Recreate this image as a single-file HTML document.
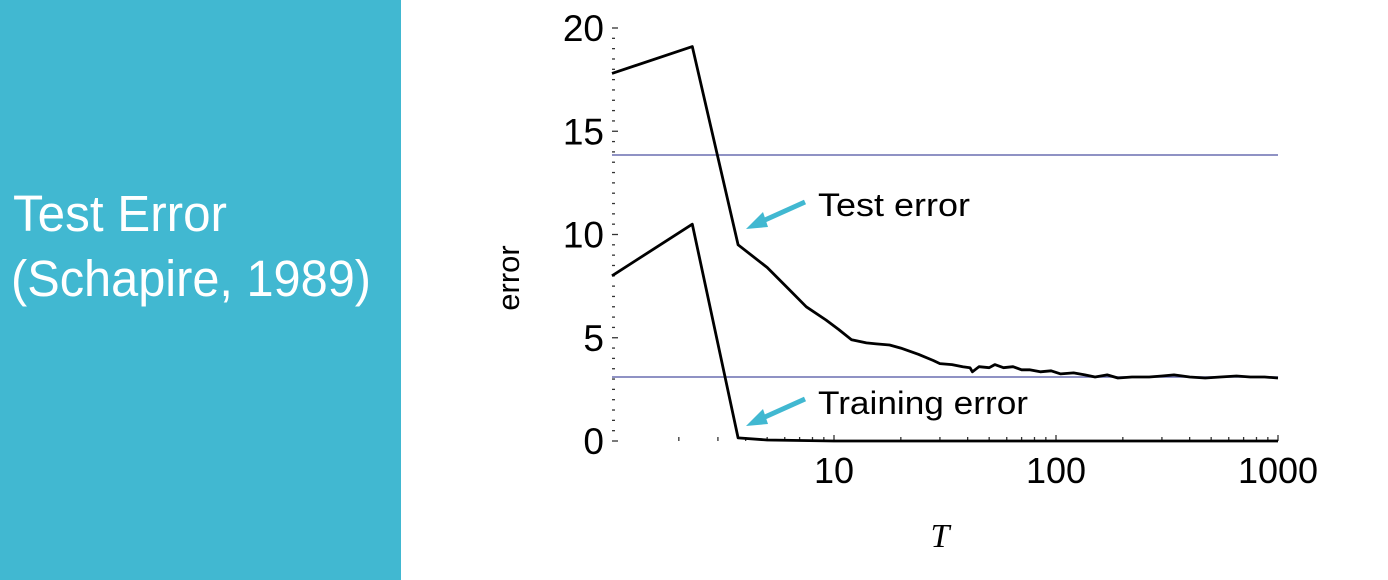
<!DOCTYPE html>
<html><head><meta charset="utf-8"><style>
html,body{margin:0;padding:0;background:#fff;width:1388px;height:580px;overflow:hidden}
svg{display:block}
</style></head><body>
<svg id="chart" width="1388" height="580" viewBox="0 0 1388 580" xmlns="http://www.w3.org/2000/svg">
<rect x="0" y="0" width="401" height="580" fill="#41B8D1"/>
<text x="13" y="231" font-family="Liberation Sans, sans-serif" font-size="51" fill="#fff" textLength="214" lengthAdjust="spacingAndGlyphs">Test Error</text>
<text x="11" y="296" font-family="Liberation Sans, sans-serif" font-size="51" fill="#fff" textLength="360" lengthAdjust="spacingAndGlyphs">(Schapire, 1989)</text>
<g id="axes"></g>
<g id="marks"></g>
<text x="519" y="278" transform="rotate(-90 519 278)" text-anchor="middle" font-family="Liberation Sans, sans-serif" font-size="31" fill="#000">error</text>
<text x="940" y="547" text-anchor="middle" font-family="Liberation Serif, serif" font-style="italic" font-size="34" fill="#000">T</text>
<line x1="805" y1="202" x2="756" y2="224" stroke="#41B8D1" stroke-width="5"/>
<polygon points="746,229 763,212 768,227" fill="#41B8D1"/>
<line x1="805" y1="399" x2="756" y2="421" stroke="#41B8D1" stroke-width="5"/>
<polygon points="746,426 763,409 768,424" fill="#41B8D1"/>
<text x="818" y="216" font-family="Liberation Sans, sans-serif" font-size="32" fill="#000" textLength="152" lengthAdjust="spacingAndGlyphs">Test error</text>
<text x="818" y="414" font-family="Liberation Sans, sans-serif" font-size="32" fill="#000" textLength="210" lengthAdjust="spacingAndGlyphs">Training error</text>
</svg>
<script>
const xTicks = [10, 100, 1000];
const xTickLabels = ["10", "100", "1000"];
const yTicks = [0, 5, 10, 15, 20];
const yTickLabels = ["0", "5", "10", "15", "20"];
const refLines = [13.85, 3.1];
const testT = [1, 2.3, 3.7, 5, 6.2, 7.5, 9.2, 10.5, 12, 14, 15.5, 17.8, 20, 24, 28, 30, 34, 38, 41, 42, 45, 50, 53, 58, 64, 70, 76, 85, 95, 105, 120, 135, 150, 170, 190, 220, 263, 300, 340, 400, 470, 550, 650, 750, 870, 1000];
const testErr = [17.8, 19.1, 9.5, 8.4, 7.4, 6.5, 5.86, 5.4, 4.9, 4.75, 4.7, 4.65, 4.5, 4.2, 3.9, 3.75, 3.7, 3.6, 3.55, 3.35, 3.6, 3.55, 3.7, 3.55, 3.6, 3.45, 3.45, 3.35, 3.4, 3.25, 3.3, 3.2, 3.1, 3.2, 3.05, 3.1, 3.1, 3.15, 3.2, 3.1, 3.05, 3.1, 3.15, 3.1, 3.1, 3.05];
const trainT = [1, 2.3, 3.7, 5, 10, 1000];
const trainErr = [8.0, 10.5, 0.15, 0.05, 0.0, 0.0];

const NS = "http://www.w3.org/2000/svg";
const X0 = 612, DEC = 222, Y0 = 441, YU = 20.65;
function xs(t){ return X0 + DEC * Math.log10(t); }
function ys(v){ return Y0 - YU * v; }
function mk(tag, attrs, parent){
  const e = document.createElementNS(NS, tag);
  for (const k in attrs) e.setAttribute(k, attrs[k]);
  parent.appendChild(e);
  return e;
}
const axes = document.getElementById('axes');
const marks = document.getElementById('marks');

for (let v = 0; v <= 20.01; v += 0.5) {
  const major = Math.abs(v - Math.round(v / 5) * 5) < 1e-6;
  const t = mk('line', {x1: X0, x2: X0 + (major ? 6 : 3), y1: ys(v), y2: ys(v), stroke: '#333', 'stroke-width': 1.3}, axes);
  
  
}
yTicks.forEach((v, i) => {
  const t = mk('text', {x: 604, y: ys(v) + 13, 'text-anchor': 'end', 'font-family': 'Liberation Sans, sans-serif', 'font-size': 37, fill: '#000'}, axes);
  t.textContent = yTickLabels[i];
  
  
});
for (let d = 0; d < 3; d++) {
  for (let m = 2; m <= 10; m++) {
    const t = m * Math.pow(10, d);
    const major = m === 10;
    const l = mk('line', {x1: xs(t), x2: xs(t), y1: Y0, y2: Y0 - (major ? 6 : 4), stroke: '#333', 'stroke-width': 1.3}, axes);
    
    
  }
}
xTicks.forEach((v, i) => {
  const t = mk('text', {x: xs(v), y: 483, 'text-anchor': 'middle', 'font-family': 'Liberation Sans, sans-serif', 'font-size': 36, fill: '#000'}, axes);
  t.textContent = xTickLabels[i];
  
  
});
refLines.forEach(v => {
  const l = mk('line', {x1: X0, x2: xs(1000), y1: ys(v), y2: ys(v), stroke: '#6a6fb0', 'stroke-width': 1.5}, marks);
  
  
});
function path(T, V){ return T.map((t, i) => (i ? 'L' : 'M') + xs(t).toFixed(1) + ',' + ys(V[i]).toFixed(1)).join(' '); }
const p1 = mk('path', {d: path(testT, testErr), fill: 'none', stroke: '#000', 'stroke-width': 2.8, 'stroke-linejoin': 'round'}, marks);


const p2 = mk('path', {d: path(trainT, trainErr), fill: 'none', stroke: '#000', 'stroke-width': 2.8, 'stroke-linejoin': 'round'}, marks);


</script>
</body></html>
